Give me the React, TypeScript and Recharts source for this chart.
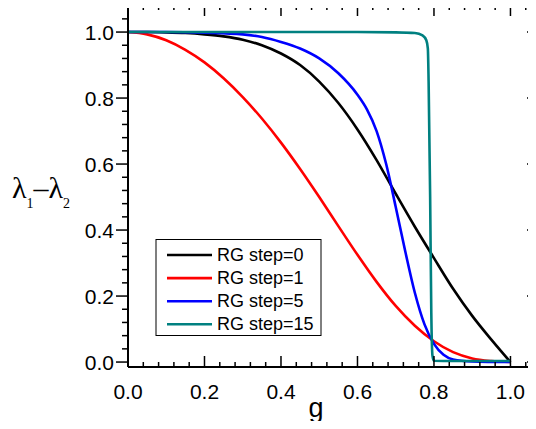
import React from 'react';
import { LineChart, Line, XAxis, YAxis } from 'recharts';

// g grid shared by step 0 and step 1
const gGrid = [0, 0.05, 0.1, 0.15, 0.2, 0.25, 0.3, 0.35, 0.4, 0.45, 0.5, 0.55, 0.6, 0.65, 0.7, 0.75, 0.8, 0.85, 0.9, 0.95, 1.0];
const step0 = [1.0, 1.0, 0.999, 0.997, 0.993, 0.987, 0.977, 0.96, 0.935, 0.9, 0.85, 0.785, 0.705, 0.612, 0.51, 0.41, 0.315, 0.222, 0.14, 0.068, 0.0];
const step1 = [1.0, 0.993, 0.975, 0.946, 0.908, 0.86, 0.803, 0.738, 0.665, 0.585, 0.5, 0.412, 0.325, 0.243, 0.17, 0.11, 0.063, 0.03, 0.011, 0.003, 0.0];

const gStep5 = [0, 0.1, 0.2, 0.3, 0.35, 0.4, 0.45, 0.5, 0.55, 0.6, 0.625, 0.65, 0.675, 0.7, 0.725, 0.75, 0.775, 0.8, 0.825, 0.85, 0.9, 1.0];
const step5 = [1.0, 1.0, 0.998, 0.993, 0.985, 0.97, 0.95, 0.92, 0.875, 0.81, 0.765, 0.7, 0.6, 0.47, 0.335, 0.21, 0.115, 0.055, 0.022, 0.008, 0.002, 0.0];

const gStep15 = [0, 0.2, 0.4, 0.6, 0.7, 0.75, 0.77, 0.78, 0.784, 0.786, 0.79, 0.793, 0.796, 0.8, 0.85, 1.0];
const step15 = [1.0, 1.0, 1.0, 1.0, 0.999, 0.997, 0.99, 0.975, 0.95, 0.85, 0.5, 0.15, 0.02, 0.004, 0.003, 0.003];

const seriesNames = ['RG step=0', 'RG step=1', 'RG step=5', 'RG step=15'];
const seriesColors = ['#000000', '#ff0000', '#0000ff', '#008080'];

const xTicks = [0, 0.04, 0.08, 0.12, 0.16, 0.2, 0.24, 0.28, 0.32, 0.36, 0.4, 0.44, 0.48, 0.52, 0.56, 0.6, 0.64, 0.68, 0.72, 0.76, 0.8, 0.84, 0.88, 0.92, 0.96, 1.0, 1.04];
const yTicks = [0, 0.04, 0.08, 0.12, 0.16, 0.2, 0.24, 0.28, 0.32, 0.36, 0.4, 0.44, 0.48, 0.52, 0.56, 0.6, 0.64, 0.68, 0.72, 0.76, 0.8, 0.84, 0.88, 0.92, 0.96, 1.0, 1.04, 1.08];

const zip = (gs: number[], vs: number[]) => gs.map((g, i) => ({ g, v: vs[i] }));
const series = [zip(gGrid, step0), zip(gGrid, step1), zip(gStep5, step5), zip(gStep15, step15)];

const FONT = '"Liberation Sans", Arial, sans-serif';
const isMajor = (v: number) => Math.abs(v / 0.2 - Math.round(v / 0.2)) < 1e-6;

const BottomTick = (p: any) => {
  const major = isMajor(p.payload.value);
  return (
    <g>
      <line x1={p.x} x2={p.x} y1={p.y} y2={p.y - (major ? 11 : 5)} stroke="#000" strokeWidth={1.5} />
      {major && (
        <text x={p.x} y={p.y + 24} textAnchor="middle" dominantBaseline="central" fontFamily={FONT} fontSize={21} fill="#000">
          {p.payload.value.toFixed(1)}
        </text>
      )}
    </g>
  );
};

const TopTick = (p: any) => {
  const major = isMajor(p.payload.value);
  return <line x1={p.x} x2={p.x} y1={p.y} y2={p.y + (major ? 11 : 5)} stroke="#000" strokeWidth={1.5} />;
};

const LeftTick = (p: any) => {
  const major = isMajor(p.payload.value);
  return (
    <g>
      <line x1={p.x} x2={p.x - (major ? 12 : 6)} y1={p.y} y2={p.y} stroke="#000" strokeWidth={1.5} />
      {major && (
        <text x={p.x - 14} y={p.y} textAnchor="end" dominantBaseline="central" fontFamily={FONT} fontSize={21} fill="#000">
          {p.payload.value.toFixed(1)}
        </text>
      )}
    </g>
  );
};

const RightTick = (p: any) => {
  const major = isMajor(p.payload.value);
  return <line x1={p.x} x2={p.x - (major ? 11 : 5)} y1={p.y} y2={p.y} stroke="#000" strokeWidth={1.5} />;
};

const axisLine = { stroke: '#000', strokeWidth: 2 };

export default function App() {
  return (
    <div style={{ position: 'relative', width: 536, height: 429, overflow: 'hidden', margin: -8, background: '#fff' }}>
      <LineChart width={541} height={429} margin={{ top: 0, right: 0, bottom: 32, left: 98 }}>
        <XAxis xAxisId="b" type="number" dataKey="g" domain={[0, 1.072]} ticks={xTicks} interval={0} height={30}
          tickSize={0} tickMargin={0} tickLine={false} axisLine={axisLine} tick={BottomTick} allowDataOverflow />
        <XAxis xAxisId="t" orientation="top" type="number" dataKey="g" domain={[0, 1.072]} ticks={xTicks} interval={0} height={5}
          tickSize={0} tickMargin={0} tickLine={false} axisLine={axisLine} tick={TopTick} allowDataOverflow />
        <YAxis yAxisId="l" type="number" domain={[-0.015, 1.082]} ticks={yTicks} interval={0} width={30}
          tickSize={0} tickMargin={0} tickLine={false} axisLine={axisLine} tick={LeftTick} allowDataOverflow />
        <YAxis yAxisId="r" orientation="right" type="number" domain={[-0.015, 1.082]} ticks={yTicks} interval={0} width={3}
          tickSize={0} tickMargin={0} tickLine={false} axisLine={axisLine} tick={RightTick} allowDataOverflow />
        {series.map((d, i) => (
          <Line key={seriesNames[i]} xAxisId="b" yAxisId="l" data={d} dataKey="v" name={seriesNames[i]} type="monotone"
            stroke={seriesColors[i]} strokeWidth={2.6} dot={false} isAnimationActive={false} />
        ))}
      </LineChart>
      <svg width={536} height={429} style={{ position: 'absolute', left: 0, top: 0, pointerEvents: 'none' }}>
        <text x={12} y={198} fontFamily='"Liberation Serif", "Times New Roman", serif' fontSize={30} fill="#000">
          λ<tspan fontSize={14} dy={10}>1</tspan><tspan dy={-10}>–</tspan>λ<tspan fontSize={14} dy={10}>2</tspan>
        </text>
        <text x={316} y={417} textAnchor="middle" fontFamily={FONT} fontSize={27} fill="#000">g</text>
        <rect x={156} y={239.5} width={165} height={96} fill="#fff" stroke="#000" strokeWidth={1} />
        {seriesNames.map((n, i) => (
          <g key={n}>
            <line x1={167} x2={212} y1={255 + 23.1 * i} y2={255 + 23.1 * i} stroke={seriesColors[i]} strokeWidth={2.6} />
            <text x={217} y={255 + 23.1 * i} dominantBaseline="central" fontFamily={FONT} fontSize={18} fill="#000">{n}</text>
          </g>
        ))}
      </svg>
    </div>
  );
}
